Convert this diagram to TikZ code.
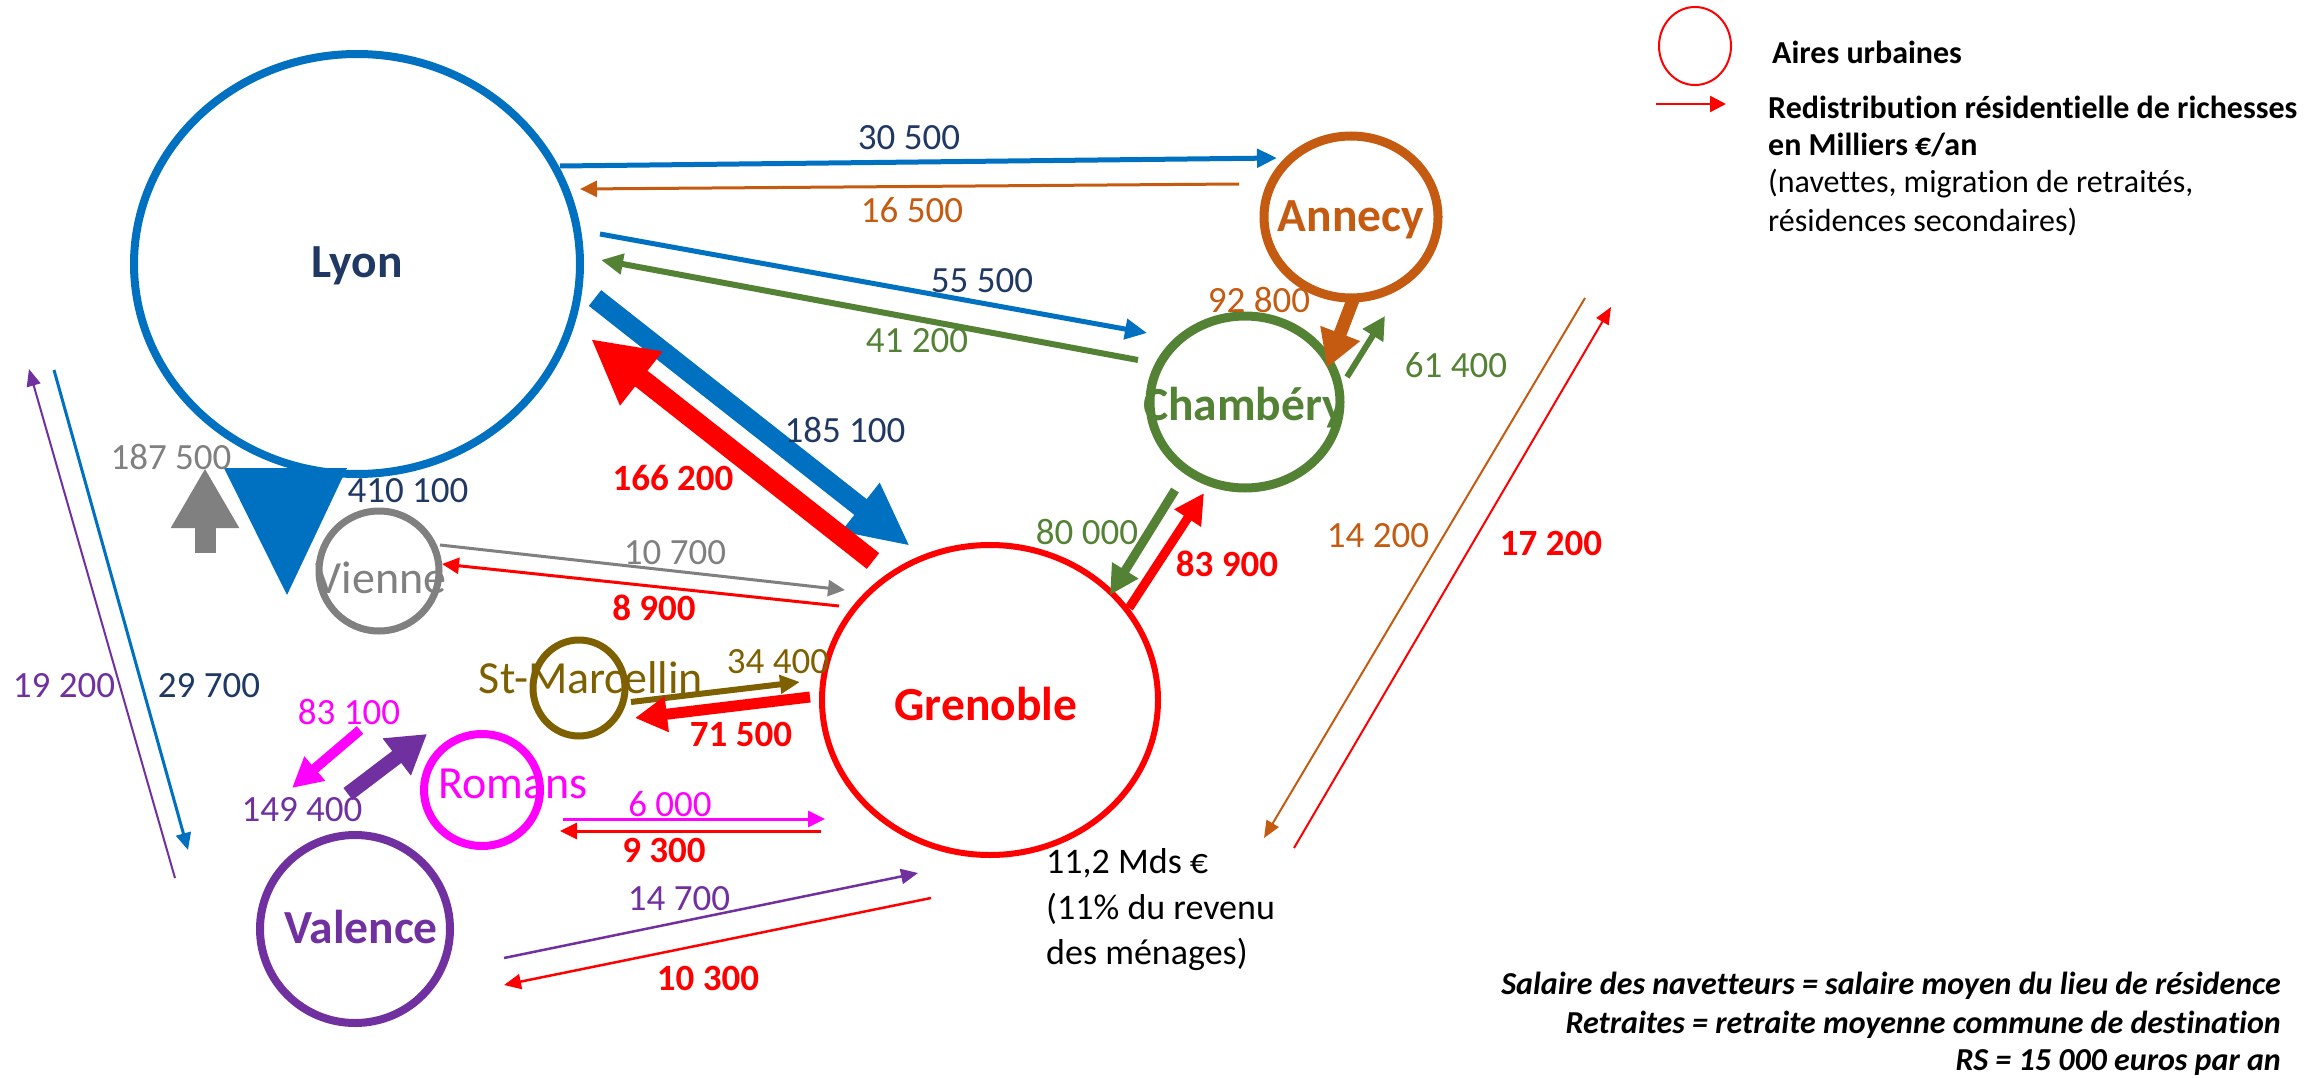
\documentclass[tikz,border=0pt]{standalone}
\usepackage{fontspec}
\setmainfont{Carlito}[Ligatures=NoCommon]
\usetikzlibrary{arrows.meta,shapes.geometric}
\definecolor{lyonblue}{HTML}{0070C0}
\definecolor{navy}{HTML}{1F3864}
\definecolor{orng}{HTML}{C55A11}
\definecolor{grn}{HTML}{548235}
\definecolor{gry}{HTML}{808080}
\definecolor{brn}{HTML}{7F6000}
\definecolor{mag}{HTML}{FF00FF}
\definecolor{purp}{HTML}{7030A0}
\definecolor{rd}{HTML}{FF0000}
\begin{document}
\begin{tikzpicture}[x=1pt,y=-1pt,
 area/.style={draw, ellipse, inner sep=0pt},
 num/.style={font=\fontsize{37}{44}\selectfont, inner sep=0pt},
 bnum/.style={font=\fontsize{37}{44}\selectfont\bfseries, inner sep=0pt},
 cityname/.style={font=\fontsize{46}{55}\selectfont, inner sep=0pt},
 bcity/.style={font=\fontsize{47.5}{56}\selectfont\bfseries, inner sep=0pt},
 legtext/.style={font=\fontsize{32}{38}\selectfont, inner sep=0pt, anchor=west},
 notetext/.style={font=\fontsize{32}{38}\selectfont\bfseries\itshape, inner sep=0pt, anchor=east},
 flow/.style n args={3}{line width=#1, -{Triangle[length=#2,width=#3]}},
]
\useasboundingbox (0,0) rectangle (2315,1078);

% areas
\node[area, lyonblue, line width=8pt, minimum width=446pt, minimum height=420pt] (lyon) at (357,264) {};
\node[area, orng, line width=9pt, minimum width=174pt, minimum height=162pt] (annecy) at (1351,217) {};
\node[area, grn, line width=9pt, minimum width=190pt, minimum height=172pt] (chambery) at (1245,402) {};
\node[area, rd, line width=6pt, minimum width=336pt, minimum height=310pt] (grenoble) at (990,700) {};
\node[area, gry, line width=7pt, minimum width=120pt, minimum height=120pt] (vienne) at (379,571) {};
\node[area, brn, line width=7pt, minimum width=92pt, minimum height=96pt] (stmarc) at (579,688) {};
\node[area, mag, line width=8pt, minimum width=116pt, minimum height=112pt] (romans) at (482,790) {};
\node[area, purp, line width=8pt, minimum width=190pt, minimum height=188pt] (valence) at (355,929) {};

% city names
\node[bcity, navy] (tlyon) at (357,266) {Lyon};
\node[bcity, orng] (tannecy) at (1351,220) {Annecy};
\node[bcity, grn] (tchambery) at (1244,408) {Chambéry};
\node[bcity, rd] (tgrenoble) at (986,704) {Grenoble};
\node[cityname, gry] (tvienne) at (381,578) {Vienne};
\node[cityname, brn] (tstmarc) at (591,678) {St-Marcellin};
\node[cityname, mag] (tromans) at (513,784) {Romans};
\node[bcity, purp] (tvalence) at (361,927) {Valence};

% coordinates of flow ends
\coordinate (lyA1) at (560,166); \coordinate (anL1) at (1277,158);
\coordinate (anL2) at (1239,184); \coordinate (lyA2) at (580,189);
\coordinate (lyC1) at (600,234); \coordinate (chL1) at (1147,333);
\coordinate (chL2) at (1138,360); \coordinate (lyC2) at (601,260);
\coordinate (lyG1) at (595,298); \coordinate (grL1) at (910,546);
\coordinate (grL2) at (873,561); \coordinate (lyG2) at (591,339);
\coordinate (lyV1) at (224,468); \coordinate (lyV2) at (347,468); \coordinate (viL1) at (287,595);
\coordinate (viL2) at (205,553); \coordinate (lyV3) at (205,468);
\coordinate (viG1) at (440,545); \coordinate (grV1) at (845,590);
\coordinate (grV2) at (839,606); \coordinate (viG2) at (442,564);
\coordinate (smG1) at (631,702); \coordinate (grS1) at (800,682);
\coordinate (grS2) at (810,697); \coordinate (smG2) at (635,718);
\coordinate (roV1) at (360,730); \coordinate (vaR1) at (292,788);
\coordinate (vaR2) at (348,794); \coordinate (roV2) at (427,734);
\coordinate (roG1) at (563,819); \coordinate (grR1) at (825,819);
\coordinate (grR2) at (821,831); \coordinate (roG2) at (560,831);
\coordinate (vaG1) at (504,958); \coordinate (grVa1) at (918,873);
\coordinate (grVa2) at (931,898); \coordinate (vaG2) at (504,985);
\coordinate (lyVa1) at (54,370); \coordinate (vaL1) at (188,850);
\coordinate (vaL2) at (175,878); \coordinate (lyVa2) at (29,369);
\coordinate (anC1) at (1353,300); \coordinate (chA1) at (1327,368);
\coordinate (chA2) at (1347,377); \coordinate (anC2) at (1385,316);
\coordinate (chG1) at (1175,490); \coordinate (grC1) at (1110,595);
\coordinate (grC2) at (1129,608); \coordinate (chG2) at (1204,493);
\coordinate (anG1) at (1585,298); \coordinate (grA1) at (1264,838);
\coordinate (grA2) at (1294,848); \coordinate (anG2) at (1611,307);

% flows
\draw[flow={5pt}{20pt}{18pt}, lyonblue] (lyA1) -- (anL1);
\draw[flow={3pt}{17pt}{16pt}, orng] (anL2) -- (lyA2);
\draw[flow={5pt}{22pt}{20pt}, lyonblue] (lyC1) -- (chL1);
\draw[flow={6pt}{22pt}{20pt}, grn] (chL2) -- (lyC2);
\draw[flow={20pt}{63pt}{57pt}, lyonblue] (lyG1) -- (grL1);
\draw[flow={20pt}{64pt}{64pt}, rd] (grL2) -- (lyG2);
\fill[lyonblue] (lyV1) -- (lyV2) -- (viL1) -- cycle;
\draw[flow={21pt}{60pt}{64pt}, gry] (viL2) -- (lyV3);
\draw[flow={3pt}{17pt}{16pt}, gry] (viG1) -- (grV1);
\draw[flow={3pt}{17pt}{16pt}, rd] (grV2) -- (viG2);
\draw[flow={6pt}{20pt}{18pt}, brn] (smG1) -- (grS1);
\draw[flow={11pt}{32pt}{34pt}, rd] (grS2) -- (smG2);
\draw[flow={10pt}{30pt}{30pt}, mag] (roV1) -- (vaR1);
\draw[flow={15pt}{38pt}{44pt}, purp] (vaR2) -- (roV2);
\draw[flow={3pt}{17pt}{16pt}, mag] (roG1) -- (grR1);
\draw[flow={3pt}{17pt}{16pt}, rd] (grR2) -- (roG2);
\draw[flow={2.5pt}{17pt}{15pt}, purp] (vaG1) -- (grVa1);
\draw[flow={2.5pt}{17pt}{15pt}, rd] (grVa2) -- (vaG2);
\draw[flow={3pt}{17pt}{15pt}, lyonblue] (lyVa1) -- (vaL1);
\draw[flow={2pt}{17pt}{14pt}, purp] (vaL2) -- (lyVa2);
\draw[flow={13pt}{37pt}{40pt}, orng] (anC1) -- (chA1);
\draw[flow={6pt}{23pt}{23pt}, grn] (chA2) -- (anC2);
\draw[flow={9pt}{29pt}{29pt}, grn] (chG1) -- (grC1);
\draw[flow={9pt}{30pt}{30pt}, rd] (grC2) -- (chG2);
\draw[flow={2pt}{17pt}{14pt}, orng] (anG1) -- (grA1);
\draw[flow={2pt}{17pt}{14pt}, rd] (grA2) -- (anG2);

% flow labels
\node[num, navy] (l1) at (909,138) {30 500};
\node[num, orng] (l2) at (912,210) {16 500};
\node[num, navy] (l3) at (982,281) {55 500};
\node[num, grn] (l4) at (917,341) {41 200};
\node[num, navy] (l5) at (845,430) {185 100};
\node[bnum, rd] (l6) at (673,478) {166 200};
\node[num, navy] (l7) at (408,491) {410 100};
\node[num, gry] (l8) at (171,457) {187 500};
\node[num, gry] (l9) at (675,553) {10 700};
\node[bnum, rd] (l10) at (654,608) {8 900};
\node[num, brn] (l11) at (778,662) {34 400};
\node[bnum, rd] (l12) at (741,734) {71 500};
\node[num, mag] (l13) at (349,712) {83 100};
\node[num, purp] (l14) at (302,810) {149 400};
\node[num, mag] (l15) at (670,804) {6 000};
\node[bnum, rd] (l16) at (664,850) {9 300};
\node[num, purp] (l17) at (679,899) {14 700};
\node[bnum, rd] (l18) at (708,978) {10 300};
\node[num, navy] (l19) at (209,686) {29 700};
\node[num, purp] (l20) at (64,686) {19 200};
\node[num, orng] (l21) at (1259,300) {92 800};
\node[num, grn] (l22) at (1456,365) {61 400};
\node[num, grn] (l23) at (1087,532) {80 000};
\node[bnum, rd] (l24) at (1227,564) {83 900};
\node[num, orng] (l25) at (1378,536) {14 200};
\node[bnum, rd] (l26) at (1551,543) {17 200};

% Grenoble total
\node[font=\fontsize{36}{45.5}\selectfont, inner sep=0pt, anchor=west, align=left] (total) at (1046,910) {11,2 Mds €\\(11\% du revenu\\des ménages)};

% legend
\node[draw, ellipse, rd, line width=2pt, inner sep=0pt, minimum width=72pt, minimum height=78pt] (legc) at (1695,46) {};
\coordinate (lega1) at (1656,104); \coordinate (lega2) at (1726,104);
\draw[flow={2.5pt}{16pt}{16pt}, rd] (lega1) -- (lega2);
\node[legtext, font=\fontsize{32}{38}\selectfont\bfseries] (leg1) at (1772,52) {Aires urbaines};
\node[legtext, font=\fontsize{32}{38}\selectfont\bfseries] (leg2) at (1768,107) {Redistribution résidentielle de richesses};
\node[legtext, font=\fontsize{32}{38}\selectfont\bfseries] (leg3) at (1768,145) {en Milliers €/an};
\node[legtext] (leg4) at (1768,184) {(navettes, migration de retraités,};
\node[legtext] (leg5) at (1768,222) {résidences secondaires)};

% notes
\node[notetext] (n1) at (2281,986) {Salaire des navetteurs = salaire moyen du lieu de résidence};
\node[notetext] (n2) at (2281,1025) {Retraites = retraite moyenne commune de destination};
\node[notetext] (n3) at (2281,1063) {RS = 15 000 euros par an};
\end{tikzpicture}
\end{document}
